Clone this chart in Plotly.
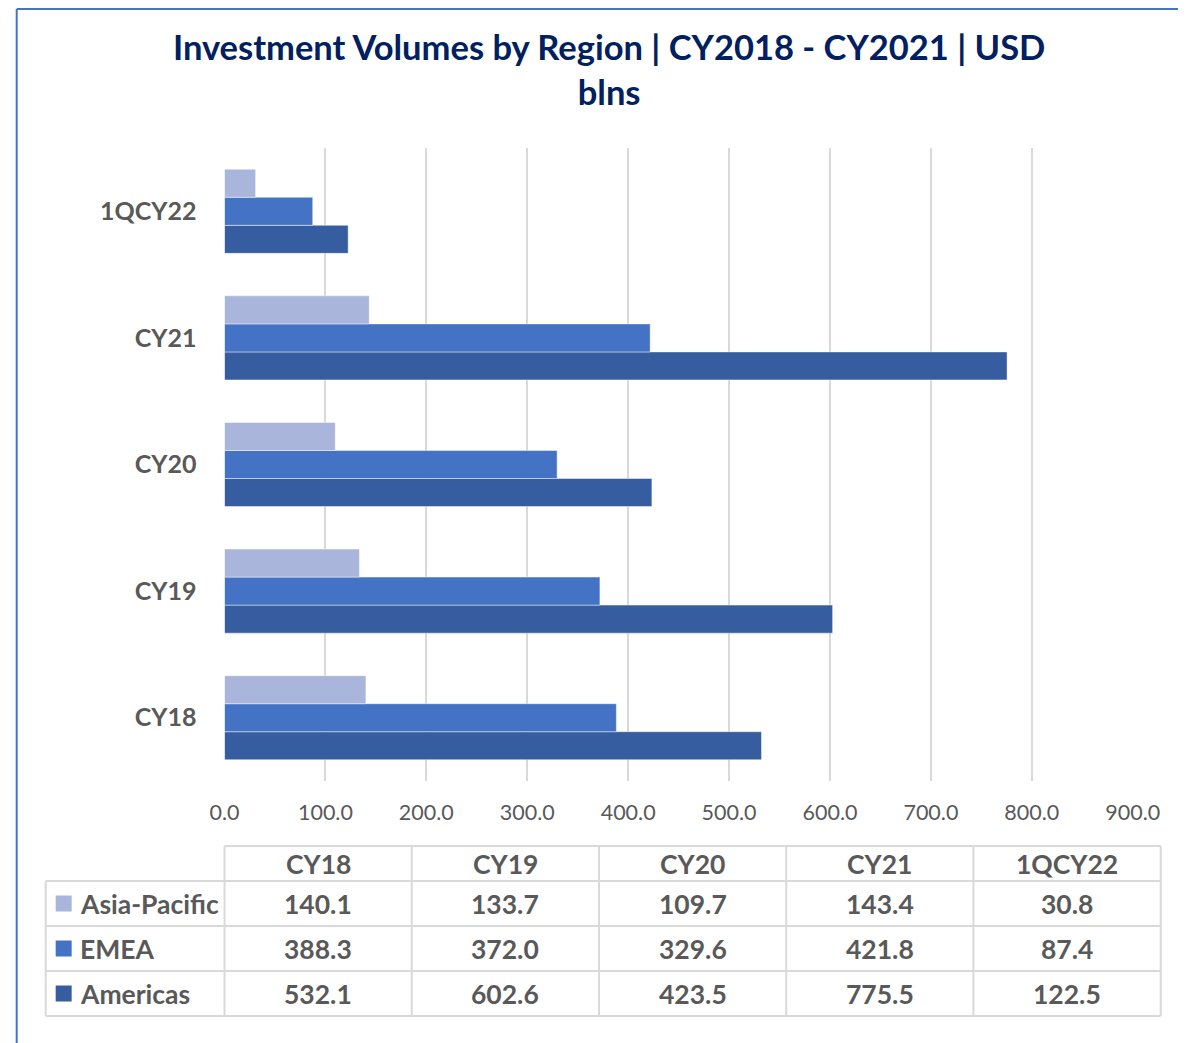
import plotly.graph_objects as go

W, H = 1205, 1035
# empirical mapping of figure pixels to screenshot pixels
XA, XB = 22.3, 0.966
YOFF = 8

categories = ["CY18", "CY19", "CY20", "CY21", "1QCY22"]
series_names = ["Asia-Pacific", "EMEA", "Americas"]
asia_pacific = [140.1, 133.7, 109.7, 143.4, 30.8]
emea = [388.3, 372.0, 329.6, 421.8, 87.4]
americas = [532.1, 602.6, 423.5, 775.5, 122.5]
x_ticks = [0, 100, 200, 300, 400, 500, 600, 700, 800, 900]

colors = {"Asia-Pacific": "#A9B5DB", "EMEA": "#4472C4", "Americas": "#355D9F"}
values = {"Asia-Pacific": asia_pacific, "EMEA": emea, "Americas": americas}

GRAY = "#595959"
GRID = "#D9D9D9"
FONT = "Lato"


def px(x):
    return ((x - XA) / XB) / W


def py(y):
    return 1 - (y - YOFF) / H


fig = go.Figure()
# Plotly places grouped horizontal bars bottom-up in trace order
for name in ["Americas", "EMEA", "Asia-Pacific"]:
    fig.add_trace(go.Bar(
        y=categories, x=values[name], name=name, orientation="h",
        marker=dict(color=colors[name], line=dict(color="rgba(255,255,255,0.45)", width=1)),
        showlegend=False,
    ))

shapes = []
annotations = []

# outer frame (top + left border)
shapes.append(dict(type="line", xref="paper", yref="paper", x0=px(16), x1=1.2, y0=py(9), y1=py(9),
                   line=dict(color="#4472C4", width=2)))
shapes.append(dict(type="line", xref="paper", yref="paper", x0=px(16), x1=px(16), y0=py(9), y1=-0.05,
                   line=dict(color="#4472C4", width=2)))

# data table
col_edges = [224, 411.4, 598.8, 786.2, 973.6, 1161]
row_edges = [846, 881, 926, 971, 1016]
leg_left = 45
lw = dict(color=GRID, width=2)
shapes.append(dict(type="line", xref="paper", yref="paper", x0=px(col_edges[0]), x1=px(col_edges[-1]),
                   y0=py(row_edges[0]), y1=py(row_edges[0]), line=lw))
for r in row_edges[1:]:
    shapes.append(dict(type="line", xref="paper", yref="paper", x0=px(leg_left), x1=px(col_edges[-1]),
                       y0=py(r), y1=py(r), line=lw))
shapes.append(dict(type="line", xref="paper", yref="paper", x0=px(leg_left), x1=px(leg_left),
                   y0=py(row_edges[1]), y1=py(row_edges[-1]), line=lw))
for c in col_edges:
    shapes.append(dict(type="line", xref="paper", yref="paper", x0=px(c), x1=px(c),
                       y0=py(row_edges[0]), y1=py(row_edges[-1]), line=lw))

cell_font = dict(family=FONT, size=26.5, color=GRAY)
for j, cat in enumerate(categories):
    cx = (col_edges[j] + col_edges[j + 1]) / 2
    cy = (row_edges[0] + row_edges[1]) / 2
    annotations.append(dict(xref="paper", yref="paper", x=px(cx), y=py(cy), text=f"<b>{cat}</b>",
                            showarrow=False, font=cell_font, xanchor="center", yanchor="middle"))
for i, name in enumerate(series_names):
    cy = (row_edges[i + 1] + row_edges[i + 2]) / 2
    shapes.append(dict(type="rect", xref="paper", yref="paper", x0=px(55), x1=px(71),
                       y0=py(cy - 8), y1=py(cy + 8), fillcolor=colors[name], line=dict(width=0)))
    annotations.append(dict(xref="paper", yref="paper", x=px(77), y=py(cy), text=f"<b>{name}</b>",
                            showarrow=False, font=cell_font, xanchor="left", yanchor="middle"))
    for j, v in enumerate(values[name]):
        cx = (col_edges[j] + col_edges[j + 1]) / 2
        annotations.append(dict(xref="paper", yref="paper", x=px(cx), y=py(cy), text=f"<b>{v:.1f}</b>",
                                showarrow=False, font=cell_font, xanchor="center", yanchor="middle"))

fig.update_layout(
    width=W, height=H,
    autosize=False,
    margin=dict(l=0, r=0, t=0, b=0),
    paper_bgcolor="white", plot_bgcolor="white",
    barmode="group", bargap=0.336, bargroupgap=0,
    title=dict(text="<b>Investment Volumes by Region | CY2018 - CY2021 | USD<br>blns</b>",
               x=px(603), xanchor="center", y=py(60), yanchor="middle",
               font=dict(family=FONT, size=34.5, color="#002060")),
    xaxis=dict(domain=[px(224), px(1133)], range=[0, 900], tickvals=x_ticks, tickformat=".1f",
               showgrid=True, gridcolor=GRID, gridwidth=2, zeroline=False, showline=False,
               ticks="", tickfont=dict(family=FONT, size=21.5, color=GRAY), ticklabelstandoff=16,
               fixedrange=True),
    yaxis=dict(domain=[py(781), py(148)], categoryorder="array", categoryarray=categories,
               range=[-0.5, 4.5], showgrid=False, zeroline=False, showline=False, ticks="",
               tickfont=dict(family=FONT, size=25, color=GRAY, weight="bold"), ticklabelstandoff=27,
               fixedrange=True),
    shapes=shapes, annotations=annotations,
)

fig.write_html("out.html", config={"responsive": False})
